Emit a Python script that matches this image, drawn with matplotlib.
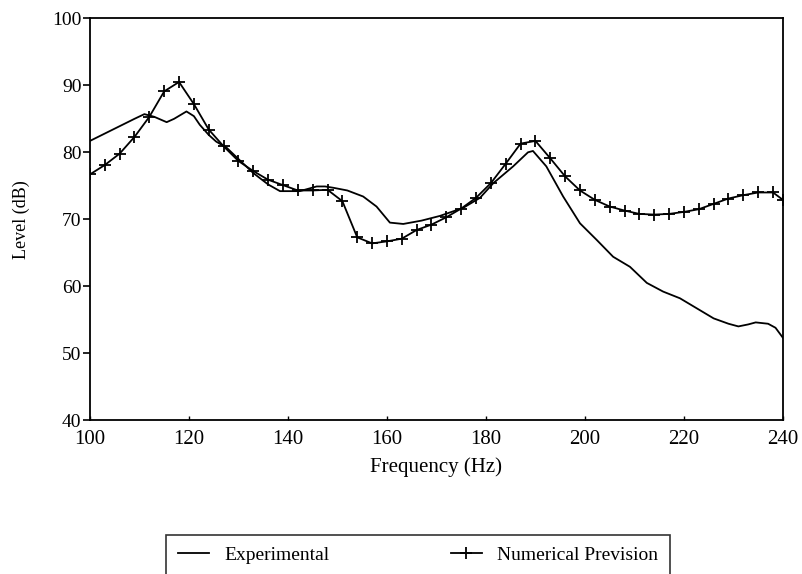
import numpy as np
import matplotlib.pyplot as plt

plt.rcParams['font.family'] = ['Liberation Serif', 'DejaVu Serif']

# Experimental curve
exp_f = [100, 103, 106, 109, 111, 113, 115.5, 117, 119.5, 121, 122.2, 124, 125.5,
         127.6, 130, 133, 136, 138.4, 142.4, 145.8, 147.5, 149.2, 152, 155.2,
         157.9, 160.6, 163.3, 167, 170.7, 175.4, 178.8, 181.5, 185.5, 188.5,
         189.5, 192.2, 195.6, 199, 202.4, 205.7, 209.1, 212.5, 215.8, 219.2,
         222.6, 226, 229, 231, 233, 234.5, 237, 238.5, 240]
exp_L = [81.7, 82.8, 83.9, 85.0, 85.7, 85.3, 84.5, 85.0, 86.1, 85.4, 84.1, 82.6, 81.6,
         80.7, 79.0, 76.9, 75.2, 74.2, 74.2, 74.9, 74.9, 74.7, 74.3, 73.4,
         71.9, 69.5, 69.3, 69.8, 70.5, 71.7, 73.2, 75.4, 77.9, 80.0,
         80.2, 77.9, 73.4, 69.4, 66.9, 64.4, 62.9, 60.5, 59.2, 58.2,
         56.7, 55.2, 54.4, 54.0, 54.3, 54.6, 54.4, 53.8, 52.3]

# Numerical prevision, one point every 3 Hz
num_f = [100, 103, 106, 109, 112, 115, 118, 121, 124, 127, 130, 133, 136, 139,
         142, 145, 148, 151, 154, 157, 160, 163, 166, 169, 172, 175, 178, 181,
         184, 187, 190, 193, 196, 199, 202, 205, 208, 211, 214, 217, 220, 223,
         226, 229, 232, 235, 238, 240]
num_L = [76.7, 78.1, 79.8, 82.3, 85.3, 89.1, 90.5, 87.2, 83.4, 80.9, 78.7, 77.2,
         75.9, 75.1, 74.3, 74.3, 74.4, 72.7, 67.3, 66.4, 66.7, 67.1, 68.4, 69.2,
         70.3, 71.6, 73.2, 75.4, 78.3, 81.3, 81.7, 79.1, 76.4, 74.3, 72.9, 71.9,
         71.3, 70.8, 70.7, 70.8, 71.1, 71.5, 72.3, 73.1, 73.6, 74.0, 74.0, 72.9]

fig = plt.figure(figsize=(8.03, 5.74), dpi=100)
ax = fig.add_axes([0.112, 0.268, 0.863, 0.7])

ax.plot(exp_f, exp_L, '-k', linewidth=1.3, label='Experimental')
ax.plot(num_f, num_L, '-k', marker='+', markersize=9, markeredgewidth=1.3,
        linewidth=1.3, label='Numerical Prevision')

ax.axis([100, 240, 40, 100])
ax.set_xticks(np.arange(100, 241, 20))
ax.set_yticks(np.arange(40, 101, 10))
ax.tick_params(axis='y', direction='out', length=5, width=1.2, pad=1, labelsize=14)
ax.tick_params(axis='x', direction='in', length=3, width=1, pad=7, labelsize=15)
for s in ax.spines.values():
    s.set_linewidth(1.3)

ax.set_xlabel('Frequency (Hz)', fontsize=15, labelpad=6)
ax.set_ylabel('Level (dB)', fontsize=13, labelpad=16)

leg = fig.legend(loc='upper left', bbox_to_anchor=(166/803., 0.068, 504/803., 0.0),
                 ncol=2, mode='expand', fontsize=14, frameon=True, fancybox=False,
                 handlelength=1.6, handletextpad=0.8, borderpad=0.6, borderaxespad=0)
leg.get_frame().set_edgecolor('black')
leg.get_frame().set_linewidth(1.2)

plt.savefig('out.png', dpi=100)
